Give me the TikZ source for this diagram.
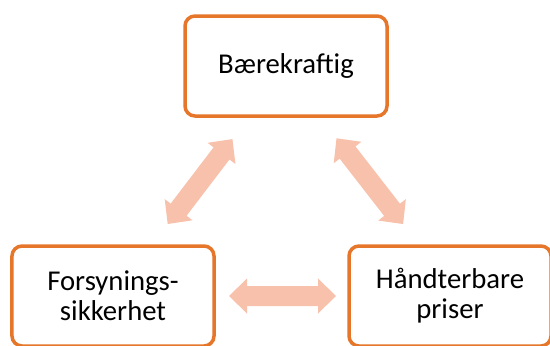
\documentclass[tikz,border=0pt]{standalone}
\usepackage{fontspec}
\setmainfont{Carlito}
\usetikzlibrary{calc}
\definecolor{boxorange}{HTML}{E5762A}
\definecolor{arrowsalmon}{HTML}{F8C1AB}
\tikzset{
  topic/.style={draw=boxorange, line width=3.5bp, rounded corners=10bp, fill=white,
    minimum width=202bp, minimum height=100bp, align=center, inner sep=0pt,
    font=\fontsize{28.7bp}{30bp}\selectfont},
  blockarrow/.style={fill=arrowsalmon, draw=none}
}
\newcommand{\dblblockarrow}[2]{%
  \path let \p1=($(#2)-(#1)$), \n1={atan2(\y1,\x1)}, \n2={veclen(\x1,\y1)} in
    [blockarrow, shift={(#1)}, rotate=\n1]
    (0bp,0bp) -- (18bp,17.5bp) -- (18bp,10bp) -- (\n2-18bp,10bp) -- (\n2-18bp,17.5bp)
    -- (\n2,0bp) -- (\n2-18bp,-17.5bp) -- (\n2-18bp,-10bp) -- (18bp,-10bp)
    -- (18bp,-17.5bp) -- cycle;%
}
\begin{document}
\begin{tikzpicture}[x=1bp,y=-1bp]
\useasboundingbox (0,0) rectangle (550,345);
\begin{scope}
\clip (0,0) rectangle (550,345);
\node[topic] (bae) at (286,66) {Bærekraftig};
\node[topic] (for) at (113,296) {Forsynings-\\sikkerhet};
\node[topic] (han) at (450,296) {Håndterbare\\priser};
\end{scope}
\coordinate (l1) at (167.7,224);
\coordinate (l2) at (232.5,139);
\coordinate (r1) at (336.5,138.3);
\coordinate (r2) at (403.3,224.3);
\coordinate (h1) at (229,296);
\coordinate (h2) at (336,296);
\dblblockarrow{l1}{l2}
\dblblockarrow{r1}{r2}
\dblblockarrow{h1}{h2}
\end{tikzpicture}
\end{document}
